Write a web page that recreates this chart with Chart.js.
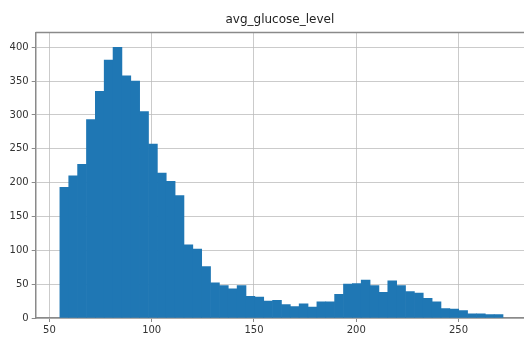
<!DOCTYPE html>
<html>
<head>
<meta charset="utf-8">
<script src="https://cdn.jsdelivr.net/npm/chart.js@4.4.1/dist/chart.umd.min.js"></script>
<style>
    html, body { margin: 0; padding: 0; background: #fff; }
</style>
</head>
<body>
<canvas id="hist" width="524" height="339"></canvas>
<script>
// histogram of avg_glucose_level, 50 bins
var chartTitle = "avg_glucose_level"
var binStart = 55.12
var binWidth = 4.3324
var counts = [
    193, 210, 227, 293, 335, 381, 400, 358, 350, 305,
    257, 214, 202, 181, 108, 102, 76, 52, 48, 43,
    48, 32, 31, 25, 26, 20, 17, 21, 16, 24,
    24, 35, 50, 51, 56, 48, 38, 55, 48, 39,
    37, 29, 24, 14, 13, 11, 6, 6, 5, 5
]
var xTicks = [50, 100, 150, 200, 250]
var yTicks = [0, 50, 100, 150, 200, 250, 300, 350, 400]

var points = counts.map(function (c, i) {
    return { x: binStart + binWidth * (i + 0.5), y: c }
})

var gridColor = "rgba(185,185,185,0.75)"
var spineColor = "#8a8a8a"
var tickFont = { family: "DejaVu Sans", size: 10 }

// matplotlib draws a full frame; chart.js has no top spine
var topSpine = {
    id: "topSpine",
    afterDraw: function (chart) {
        var a = chart.chartArea
        var ctx = chart.ctx
        ctx.save()
        ctx.strokeStyle = spineColor
        ctx.lineWidth = 1.5
        ctx.beginPath()
        ctx.moveTo(a.left, a.top)
        ctx.lineTo(a.right, a.top)
        ctx.stroke()
        ctx.restore()
    }
}

new Chart("hist", {
    type: "bar",
    data: {
        datasets: [{
            data: points,
            backgroundColor: "#1f77b4",
            borderWidth: 0,
            barPercentage: 1,
            categoryPercentage: 1
        }]
    },
    options: {
        responsive: false,
        animation: false,
        devicePixelRatio: 1,
        layout: { padding: 0 },
        plugins: {
            legend: { display: false },
            tooltip: { enabled: false },
            title: {
                display: true,
                text: chartTitle,
                fullSize: false,
                color: "#222",
                font: { family: "DejaVu Sans", size: 12, weight: "normal" },
                padding: { top: 13, bottom: 5 }
            }
        },
        scales: {
            x: {
                type: "linear",
                min: 43.3,
                max: 282,
                offset: false,
                z: 1,
                afterBuildTicks: function (s) {
                    s.ticks = xTicks.map(function (v) { return { value: v } })
                },
                afterFit: function (s) { s.height = 21 },
                ticks: { color: "#333", font: tickFont, padding: 2, maxRotation: 0 },
                grid: { offset: false, color: gridColor, tickColor: spineColor, tickLength: 4 },
                border: { display: true, color: spineColor, width: 1.5 }
            },
            y: {
                min: 0,
                max: 422,
                z: 1,
                afterBuildTicks: function (s) {
                    s.ticks = yTicks.map(function (v) { return { value: v } })
                },
                afterFit: function (s) { s.width = 35.7 },
                ticks: { color: "#333", font: tickFont, padding: 3 },
                grid: { color: gridColor, tickColor: spineColor, tickLength: 4 },
                border: { display: true, color: spineColor, width: 1.5 }
            }
        }
    },
    plugins: [topSpine]
});
</script>
</body>
</html>
